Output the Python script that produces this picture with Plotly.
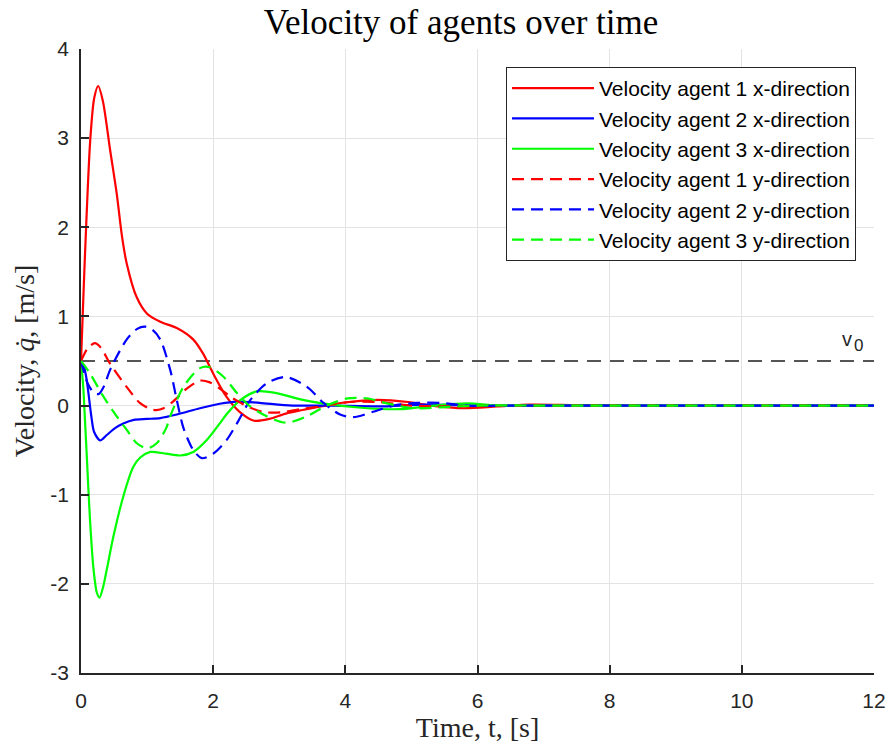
import plotly.graph_objects as go

# ---- data ----
t_v1x = [0, 0.04, 0.08, 0.14, 0.2, 0.26, 0.33, 0.44, 0.54, 0.62, 0.69, 0.84, 1.0, 1.2, 1.45, 1.7, 1.85, 2.0, 2.2, 2.4,
         2.62, 2.85, 3.1, 3.35, 3.7, 4.05, 4.5, 4.95, 5.4, 5.8, 6.3, 6.8, 7.5, 8.5, 10, 12]
v1x = [0.5, 1.3, 2.05, 2.98, 3.45, 3.585, 3.42, 2.87, 2.38, 1.9, 1.6, 1.22, 1.03, 0.94, 0.87, 0.74, 0.58, 0.36, 0.10, -0.07,
       -0.17, -0.15, -0.09, -0.05, 0.0, 0.04, 0.065, 0.04, -0.01, -0.03, -0.01, 0.01, 0.005, 0, 0, 0]

t_v2x = [0, 0.05, 0.086, 0.16, 0.2, 0.29, 0.39, 0.52, 0.64, 0.8, 1.0, 1.2, 1.45, 1.8, 2.1, 2.36, 2.7, 3.2, 3.8, 4.5,
         5.2, 6, 7, 8.5, 10, 12]
v2x = [0.5, 0.42, 0.29, -0.14, -0.3, -0.39, -0.33, -0.25, -0.2, -0.16, -0.15, -0.14, -0.1, -0.03, 0.02, 0.045, 0.03,
       0.0, 0.0, -0.01, 0.01, 0.0, 0, 0, 0, 0]

t_v3x = [0, 0.035, 0.06, 0.086, 0.136, 0.19, 0.24, 0.28, 0.33, 0.39, 0.49, 0.64, 0.79, 0.9, 1.05, 1.29, 1.5, 1.7, 1.9,
         2.1, 2.2, 2.41, 2.66, 2.96, 3.32, 3.65, 4.33, 4.83, 5.34, 5.84, 6.35, 7, 8.5, 10, 12]
v3x = [0.5, 0.2, -0.16, -0.54, -1.28, -1.84, -2.1, -2.155, -2.05, -1.84, -1.47, -1.02, -0.69, -0.58, -0.52, -0.54, -0.56,
       -0.52, -0.39, -0.2, -0.1, 0.06, 0.16, 0.14, 0.07, 0.025, -0.03, -0.04, 0.0, 0.025, 0.0, 0, 0, 0, 0]

t_v1y = [0, 0.1, 0.21, 0.3, 0.44, 0.69, 0.89, 1.05, 1.14, 1.25, 1.4, 1.6, 1.8, 1.95, 2.1, 2.3, 2.55, 2.75, 2.91, 3.1,
         3.32, 3.72, 4.07, 4.5, 5.0, 5.5, 6.2, 7, 8.5, 10, 12]
v1y = [0.5, 0.64, 0.70, 0.65, 0.47, 0.21, 0.03, -0.04, -0.05, -0.03, 0.05, 0.19, 0.28, 0.26, 0.19, 0.08, -0.02, -0.07,
       -0.08, -0.07, -0.04, 0.0, 0.04, 0.04, 0.0, -0.01, 0, 0, 0, 0, 0]

t_v2y = [0, 0.1, 0.2, 0.27, 0.35, 0.44, 0.69, 0.85, 0.97, 1.08, 1.2, 1.35, 1.45, 1.55, 1.70, 1.83, 2.0, 2.2, 2.36, 2.56,
         2.81, 3.1, 3.42, 3.67, 3.92, 4.12, 4.42, 4.73, 5.08, 5.44, 5.84, 6.5, 7.5, 9, 12]
v2y = [0.5, 0.25, 0.14, 0.13, 0.22, 0.40, 0.74, 0.86, 0.885, 0.85, 0.74, 0.40, 0.06, -0.25, -0.5, -0.59, -0.54, -0.39,
       -0.2, 0.06, 0.25, 0.32, 0.21, 0.03, -0.1, -0.13, -0.07, 0.0, 0.03, 0.03, 0.0, 0, 0, 0, 0]

t_v3y = [0, 0.136, 0.34, 0.54, 0.69, 0.84, 1.0, 1.15, 1.29, 1.35, 1.55, 1.8, 1.95, 2.16, 2.36, 2.56, 2.81, 3.07, 3.2,
         3.42, 3.72, 4.03, 4.33, 4.63, 5.03, 5.44, 6, 7, 8.5, 10, 12]
v3y = [0.5, 0.36, 0.1, -0.12, -0.27, -0.42, -0.48, -0.42, -0.25, -0.12, 0.21, 0.42, 0.43, 0.32, 0.14, -0.01, -0.12,
       -0.19, -0.18, -0.12, 0.0, 0.08, 0.08, 0.025, -0.03, -0.02, 0, 0, 0, 0, 0]

v0_t = [0, 12]
v0_val = [0.5, 0.5]

series = [
    ("Velocity agent 1 x-direction", t_v1x, v1x, "#ff0000", "solid"),
    ("Velocity agent 2 x-direction", t_v2x, v2x, "#0000ff", "solid"),
    ("Velocity agent 3 x-direction", t_v3x, v3x, "#00ff00", "solid"),
    ("Velocity agent 1 y-direction", t_v1y, v1y, "#ff0000", "12px,7px"),
    ("Velocity agent 2 y-direction", t_v2y, v2y, "#0000ff", "12px,7px"),
    ("Velocity agent 3 y-direction", t_v3y, v3y, "#00ff00", "12px,7px"),
]

x_ticks = [0, 2, 4, 6, 8, 10, 12]
x_ticktext = ["0", "2", "4", "6", "8", "10", "12"]
y_ticks = [-3, -2, -1, 0, 1, 2, 3, 4]
y_ticktext = ["-3", "-2", "-1", "0", "1", "2", "3", "4"]

fig = go.Figure()
fig.add_trace(go.Scatter(x=v0_t, y=v0_val, mode="lines", showlegend=False,
                         line=dict(color="#555555", width=2, dash="14px,9px")))
for name, t, v, c, d in series:
    fig.add_trace(go.Scatter(x=t, y=v, mode="lines", name=name,
                             line=dict(color=c, width=2.2, dash=d, shape="spline", smoothing=0.8)))

fig.add_annotation(x=11.59, y=0.745, xref="x", yref="y", text="v", showarrow=False,
                   xanchor="center", yanchor="middle",
                   font=dict(family="Liberation Sans, Arial", size=20, color="#262626"))
fig.add_annotation(x=11.77, y=0.67, xref="x", yref="y", text="0", showarrow=False,
                   xanchor="center", yanchor="middle",
                   font=dict(family="Liberation Sans, Arial", size=17, color="#262626"))

axis_common = dict(showline=True, linecolor="#262626", linewidth=1.5, ticks="inside", ticklen=8,
                   tickcolor="#262626", tickwidth=1.5, showgrid=True, gridcolor="#e3e3e3", gridwidth=1,
                   zeroline=False, mirror=False, automargin=False,
                   tickfont=dict(family="Liberation Sans, Arial", size=21, color="#262626"))

fig.update_layout(
    width=890, height=751,
    margin=dict(l=81, r=16, t=49, b=78),
    paper_bgcolor="white", plot_bgcolor="white",
    title=dict(text="Velocity of agents over time", x=461 / 890, xref="container", xanchor="center",
               y=1 - 22 / 751, yanchor="middle",
               font=dict(family="Liberation Serif, Times New Roman", size=35, color="#000000")),
    xaxis=dict(range=[0, 12], tickvals=x_ticks, ticktext=x_ticktext, ticklabelstandoff=8,
               title=dict(text="Time, t, [s]", standoff=6,
                          font=dict(family="Liberation Serif", size=28, color="#262626")),
               **axis_common),
    yaxis=dict(range=[-3, 4], tickvals=y_ticks, ticktext=y_ticktext, ticklabelstandoff=6,
               title=dict(text="Velocity, <i>q\u0307</i>, [m/s]", standoff=8,
                          font=dict(family="Liberation Serif", size=28, color="#262626")),
               **axis_common),
    legend=dict(x=(856 - 81) / 793, xanchor="right", y=(673 - 67) / 624, yanchor="top",
                bgcolor="white", bordercolor="#262626", borderwidth=1,
                font=dict(family="Liberation Sans, Arial", size=21, color="#000000"),
                itemwidth=82),
)

fig.write_html("out.html")
